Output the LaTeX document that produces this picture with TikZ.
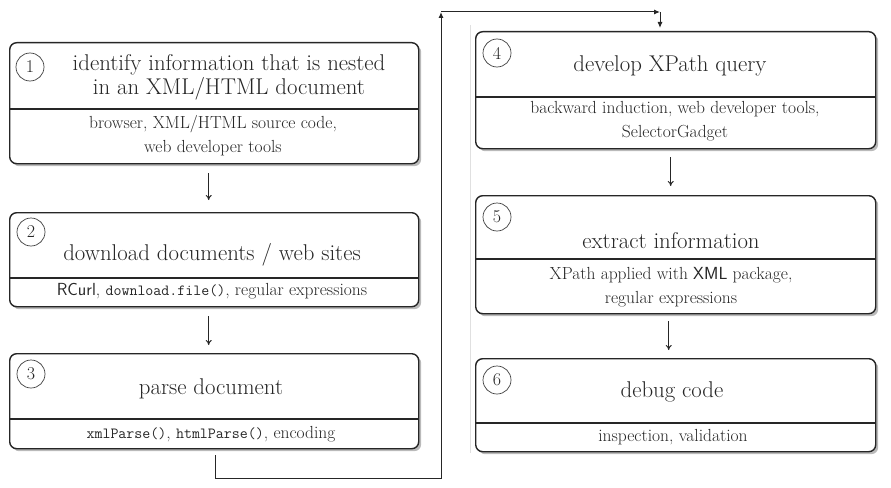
\documentclass[tikz,border=0pt]{standalone}
\usetikzlibrary{shadows,arrows.meta}
\newcommand{\ttsub}[1]{{\fontsize{15.5}{24}\selectfont\texttt{#1}}}
\begin{document}
\begin{tikzpicture}[x=1pt,y=-1pt,
  box/.style={draw=black!85, line width=1.4pt, rounded corners=7pt, fill=white,
    drop shadow={shadow xshift=2.5pt, shadow yshift=-2.5pt, opacity=0.45, fill=black!60},
    inner sep=0pt, anchor=north west},
  div/.style={draw=black!85, line width=1.2pt},
  num/.style={circle, draw=black!75, line width=0.7pt, minimum size=28pt, inner sep=0pt,
    text=black!85, font=\fontsize{18}{18}\selectfont},
  maintxt/.style={align=center, text=black!85, inner sep=0pt, font=\fontsize{22.8}{23.5}\selectfont},
  subtxt/.style={align=center, text=black!85, inner sep=0pt, font=\fontsize{17.5}{24}\selectfont},
  arr/.style={draw=black!85, line width=1pt, -{To[length=5pt,width=6pt]}},
  conn/.style={draw=black!85, line width=1pt},
  tip/.style={-{Latex[length=6pt,width=5pt]}}
]
\useasboundingbox (0,0) rectangle (891,487);
\draw[black!12, line width=0.8pt] (470,25) -- (470,453);

% left column
\node[box, minimum width=409pt, minimum height=121pt] (b1) at (9,42) {};
\draw[div] (b1.west |- 0,109) -- (b1.east |- 0,109);
\node[num] (n1) at (30,67) {1};
\node[maintxt] (t1) at (229,77.5) {identify information that is nested\\in an XML/HTML document};
\node[subtxt] (s1) at (213,135.5) {browser, XML/HTML source code,\\web developer tools};

\node[box, minimum width=409pt, minimum height=94pt] (b2) at (9,212) {};
\draw[div] (b2.west |- 0,278) -- (b2.east |- 0,278);
\node[num] (n2) at (31,232) {2};
\node[maintxt] (t2) at (212,255) {download documents / web sites};
\node[subtxt] (s2) at (212,291) {\textsf{RCurl}, \ttsub{download.file()}, regular expressions};

\node[box, minimum width=409pt, minimum height=95pt] (b3) at (9,353) {};
\draw[div] (b3.west |- 0,419) -- (b3.east |- 0,419);
\node[num] (n3) at (31,374) {3};
\node[maintxt] (t3) at (211,389) {parse document};
\node[subtxt] (s3) at (211,434) {\ttsub{xmlParse()}, \ttsub{htmlParse()}, encoding};

% right column
\node[box, minimum width=400pt, minimum height=117pt] (b4) at (475,31) {};
\draw[div] (b4.west |- 0,97) -- (b4.east |- 0,97);
\node[num] (n4) at (497,53) {4};
\node[maintxt] (t4) at (670,66) {develop XPath query};
\node[subtxt] (s4) at (675,121.5) {backward induction, web developer tools,\\SelectorGadget};

\node[box, minimum width=400pt, minimum height=118pt] (b5) at (475,195) {};
\draw[div] (b5.west |- 0,259) -- (b5.east |- 0,259);
\node[num] (n5) at (497,217) {5};
\node[maintxt] (t5) at (671,241) {extract information};
\node[subtxt] (s5) at (671,287.5) {XPath applied with \textsf{XML} package,\\regular expressions};

\node[box, minimum width=400pt, minimum height=93pt] (b6) at (475,358) {};
\draw[div] (b6.west |- 0,423) -- (b6.east |- 0,423);
\node[num] (n6) at (497,380) {6};
\node[maintxt] (t6) at (672,392) {debug code};
\node[subtxt] (s6) at (673,437) {inspection, validation};

% arrows between boxes
\draw[arr] ([xshift=-5.5pt,yshift=-9pt]b1.south) -- ([xshift=-5.5pt,yshift=12pt]b2.north);
\draw[arr] ([xshift=-5.5pt,yshift=-9pt]b2.south) -- ([xshift=-5.5pt,yshift=8pt]b3.north);
\draw[arr] ([xshift=-5pt,yshift=-8pt]b4.south) -- ([xshift=-5pt,yshift=9pt]b5.north);
\draw[arr] ([xshift=-7pt,yshift=-7pt]b5.south) -- ([xshift=-7pt,yshift=8pt]b6.north);

% long connector
\coordinate (k2) at (441,478);
\coordinate (k3) at (441,12);
\coordinate (k4) at (660,12);
\draw[conn, tip] ([xshift=1.5pt,yshift=-6pt]b3.south) |- (k2) -- (k3);
\draw[conn, tip] (k3) -- (k4);
\draw[conn, tip] (k4) -- ([yshift=3pt]b4.north -| k4);
\end{tikzpicture}
\end{document}
